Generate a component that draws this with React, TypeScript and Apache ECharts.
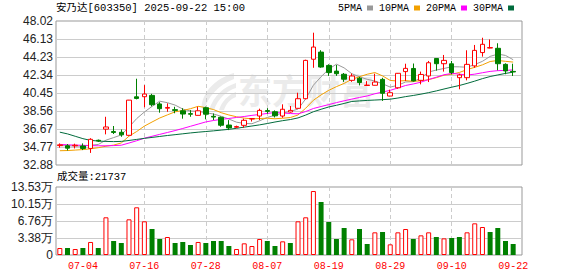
import React, { useEffect, useRef } from "react";
import * as echarts from "echarts";

const dates = [
  "07-01", "07-02", "07-03", "07-04", "07-07", "07-08", "07-09", "07-10", "07-11", "07-14",
  "07-15", "07-16", "07-17", "07-18", "07-21", "07-22", "07-23", "07-24", "07-25", "07-28",
  "07-29", "07-30", "07-31", "08-01", "08-04", "08-05", "08-06", "08-07", "08-08", "08-11",
  "08-12", "08-13", "08-14", "08-15", "08-18", "08-19", "08-20", "08-21", "08-22", "08-25",
  "08-26", "08-27", "08-28", "08-29", "09-01", "09-02", "09-03", "09-04", "09-05", "09-08",
  "09-09", "09-10", "09-11", "09-12", "09-15", "09-16", "09-17", "09-18", "09-19", "09-22",
];
const labelledDates = ["07-04", "07-16", "07-28", "08-07", "08-19", "08-29", "09-10", "09-22"];

const opens = [
  34.92, 34.9, 34.9, 34.88, 34.62, 35.48, 36.65, 36.4, 36.32, 36.0,
  40.05, 40.06, 40.2, 39.3, 38.85, 38.7, 38.58, 38.28, 38.1, 38.9,
  38.0, 37.9, 37.08, 36.85, 37.05, 37.72, 38.03, 38.6, 38.48, 38.03,
  38.45, 38.84, 39.85, 44.0, 44.75, 43.35, 42.75, 42.42, 41.78, 42.0,
  41.24, 41.26, 41.88, 40.13, 41.0, 42.7, 43.03, 41.78, 42.24, 44.08,
  43.53, 43.52, 42.06, 42.06, 43.3, 44.7, 45.18, 45.15, 43.46, 42.72,
];
const closes = [
  35.0, 34.65, 34.96, 34.62, 35.58, 35.4, 36.88, 36.3, 36.05, 39.7,
  39.88, 40.34, 39.22, 38.8, 38.93, 38.62, 38.24, 38.22, 38.58, 38.22,
  37.92, 37.06, 36.78, 36.92, 37.58, 37.76, 38.62, 38.52, 38.05, 38.74,
  38.62, 39.85, 43.88, 45.28, 43.18, 42.6, 42.48, 41.9, 42.24, 41.55,
  41.28, 41.6, 40.42, 40.48, 42.52, 43.04, 41.72, 42.4, 43.63, 43.53,
  43.88, 42.6, 42.34, 43.46, 44.93, 45.57, 45.22, 43.53, 42.77, 42.66,
];
const lows = [
  34.7, 34.4, 34.62, 34.45, 34.15, 35.3, 36.1, 36.14, 35.85, 35.95,
  39.78, 38.95, 39.05, 38.38, 38.48, 38.32, 37.75, 37.95, 38.08, 37.68,
  37.6, 36.9, 36.55, 36.75, 36.8, 37.45, 37.6, 38.28, 37.88, 37.85,
  38.38, 38.82, 39.8, 43.1, 43.1, 42.25, 42.25, 41.62, 41.62, 41.25,
  41.24, 41.24, 39.62, 40.1, 40.9, 41.72, 41.65, 41.36, 41.6, 42.8,
  42.7, 42.4, 40.84, 41.78, 43.1, 44.27, 45.15, 42.83, 42.42, 42.24,
];
const highs = [
  35.15, 35.08, 35.12, 35.15, 35.7, 35.55, 37.95, 36.98, 36.62, 39.72,
  41.95, 41.28, 40.36, 39.48, 39.36, 39.0, 38.85, 38.65, 39.0, 39.02,
  38.3, 37.98, 37.6, 37.02, 37.75, 37.78, 38.8, 38.85, 38.62, 39.26,
  39.08, 40.48, 43.95, 46.79, 44.95, 43.47, 43.4, 42.55, 42.5, 42.15,
  41.7, 42.48, 42.05, 40.8, 42.55, 43.53, 43.55, 42.7, 43.82, 44.1,
  44.45, 43.82, 42.48, 44.94, 45.5, 46.26, 46.08, 45.68, 43.57, 43.53,
];
const volumes = [
  13900, 13900, 11900, 13900, 25900, 13900, 75000, 27900, 23900, 71000,
  94900, 67000, 51700, 31800, 35800, 23900, 25900, 19900, 25900, 23900,
  27900, 27900, 17900, 11900, 23200, 17900, 31800, 27900, 17900, 27200,
  23900, 67000, 75000, 127300, 105500, 65700, 31800, 53700, 31200, 51700,
  21900, 45100, 45800, 21200, 45100, 51700, 31800, 39100, 45100, 35800,
  33100, 33800, 35800, 45100, 63000, 55700, 45800, 53700, 27900, 21737,
];
const ma5 = [
  34.92, 34.9, 34.88, 34.86, 34.96, 35.04, 35.49, 35.76, 36.04, 36.87,
  37.76, 38.45, 39.04, 39.59, 39.43, 39.18, 38.76, 38.56, 38.52, 38.38,
  38.24, 38.0, 37.71, 37.38, 37.25, 37.22, 37.53, 37.88, 38.11, 38.34,
  38.51, 38.76, 39.83, 41.27, 42.16, 42.96, 43.48, 43.09, 42.48, 42.15,
  41.89, 41.71, 41.42, 41.07, 41.26, 41.61, 41.64, 42.03, 42.66, 42.86,
  43.03, 43.21, 43.2, 43.16, 43.44, 43.78, 44.3, 44.54, 44.4, 43.95,
];
const ma10 = [
  34.38, 34.4, 34.45, 34.5, 34.58, 34.7, 34.85, 34.97, 35.2, 35.91,
  36.4, 36.97, 37.4, 37.82, 38.15, 38.47, 38.61, 38.8, 39.05, 38.91,
  38.71, 38.38, 38.14, 37.95, 37.81, 37.73, 37.77, 37.8, 37.74, 37.8,
  37.87, 38.14, 38.85, 39.69, 40.25, 40.73, 41.12, 41.46, 41.88, 42.16,
  42.42, 42.6, 42.25, 41.77, 41.71, 41.75, 41.68, 41.73, 41.86, 42.06,
  42.32, 42.42, 42.61, 42.91, 43.15, 43.41, 43.76, 43.87, 43.78, 43.7,
];
const ma20 = [
  35.05, 35.0, 34.97, 34.95, 34.92, 34.9, 34.9, 34.92, 34.96, 35.19,
  35.43, 35.7, 35.9, 36.1, 36.3, 36.5, 36.72, 36.95, 37.18, 37.41,
  37.56, 37.68, 37.77, 37.88, 37.98, 38.1, 38.19, 38.3, 38.4, 38.35,
  38.29, 38.26, 38.5, 38.82, 39.03, 39.23, 39.44, 39.63, 39.81, 39.98,
  40.14, 40.37, 40.55, 40.73, 40.98, 41.24, 41.4, 41.59, 41.87, 42.11,
  42.37, 42.51, 42.43, 42.34, 42.43, 42.58, 42.72, 42.8, 42.82, 42.88,
];
const ma30 = [
  36.33, 36.15, 35.9, 35.65, 35.47, 35.4, 35.36, 35.34, 35.36, 35.46,
  35.57, 35.68, 35.78, 35.88, 35.98, 36.07, 36.16, 36.25, 36.33, 36.4,
  36.47, 36.55, 36.63, 36.74, 36.86, 36.98, 37.1, 37.24, 37.4, 37.54,
  37.66, 37.83, 38.13, 38.48, 38.74, 38.98, 39.16, 39.35, 39.56, 39.62,
  39.67, 39.71, 39.75, 39.8, 39.92, 40.07, 40.19, 40.33, 40.49, 40.67,
  40.87, 41.06, 41.24, 41.46, 41.7, 41.96, 42.18, 42.35, 42.51, 42.64,
];

const priceTickLabels = ["32.88", "34.77", "36.67", "38.56", "40.45", "42.34", "44.23", "46.13", "48.02"];
const volumeTickLabels = ["0", "3.38万", "6.76万", "10.15万", "13.53万"];
const maNames = ["5PMA", "10PMA", "20PMA", "30PMA"];

const stockTitle = "安乃达[603350] 2025-09-22 15:00";
const volumeTitle = "成交量";
const watermark = "东方财富";

// axis configuration
const PRICE_MIN = 32.88;
const PRICE_MAX = 48.02;
const PRICE_STEP = (PRICE_MAX - PRICE_MIN) / 8;
const VOL_MAX = 135300;
const VOL_STEP = VOL_MAX / 4;

const UP = "#ff0000";
const DOWN = "#008000";
const MA_COLORS = ["#999999", "#f2a000", "#ff00ff", "#006b3c"];

echarts.graphic.registerShape(
  "emLogo",
  echarts.graphic.extendPath(
    "M34 0 C20 4 6 14 2 30 C1 34 2 37 4 37 C8 24 18 12 34 6 Z M36 10 C24 14 14 22 9 37 L14 37 C18 26 26 18 36 15 Z M36 19 C28 22 22 28 19 37 L24 37 C26 31 30 26 36 24 Z",
    {}
  )
);

export default function App() {
  const ref = useRef<HTMLDivElement>(null);

  useEffect(() => {
    document.body.style.margin = "0";
    const chart = echarts.init(ref.current!, undefined, { renderer: "svg" });

    const labelIdx = labelledDates.map((d) => dates.indexOf(d));
    const xMin = -0.5;
    const xMax = 60.15;

    const candleData = dates.map((_, i) => [
      i,
      opens[i] - PRICE_MIN,
      closes[i] - PRICE_MIN,
      lows[i] - PRICE_MIN,
      highs[i] - PRICE_MIN,
    ]);

    const maLists = [ma5, ma10, ma20, ma30];
    const maSeries = maLists.map((arr, k) => ({
      name: maNames[k],
      type: "line",
      xAxisIndex: 0,
      yAxisIndex: 0,
      data: arr.map((v, i) => [i, v - PRICE_MIN]),
      symbol: "none",
      showSymbol: false,
      color: MA_COLORS[k],
      itemStyle: { color: MA_COLORS[k] },
      lineStyle: { width: 1, color: MA_COLORS[k] },
      z: 3,
      silent: true,
    }));

    const volData = volumes.map((v, i) => {
      const up = i === 0 || closes[i] >= closes[i - 1];
      return {
        value: [i, v],
        itemStyle: up
          ? { color: "#ffffff", borderColor: UP, borderWidth: 1 }
          : { color: DOWN, borderColor: DOWN, borderWidth: 0 },
      };
    });

    const labelFont = { fontFamily: "Liberation Sans, Arial, sans-serif", fontSize: 12, color: "#222" };

    const xAxisCommon = {
      type: "value",
      min: xMin,
      max: xMax,
      axisLine: { show: false },
      axisTick: { show: false, customValues: labelIdx },
      splitLine: {
        show: true,
        showMinLine: false,
        showMaxLine: false,
        lineStyle: { color: "#cccccc", type: [4, 3], width: 1 },
      },
    };

    const option: any = {
      animation: false,
      backgroundColor: "#ffffff",
      title: [
        {
          text: stockTitle,
          left: 56,
          top: 3,
          padding: 0,
          textStyle: {
            fontFamily: "Liberation Mono, Noto Sans CJK SC, monospace",
            fontSize: 10.5,
            fontWeight: "normal",
            color: "#000",
          },
        },
        {
          text: `${volumeTitle}:${volumes[volumes.length - 1]}`,
          left: 57,
          top: 172,
          padding: 0,
          textStyle: {
            fontFamily: "Liberation Mono, Noto Sans CJK SC, monospace",
            fontSize: 10.5,
            fontWeight: "normal",
            color: "#000",
          },
        },
      ],
      legend: {
        data: maNames,
        left: 338,
        top: 3,
        padding: 0,
        icon: "rect",
        itemWidth: 6,
        itemHeight: 5,
        itemGap: 6,
        align: "right",
        selectedMode: false,
        textStyle: { fontFamily: "Liberation Mono, monospace", fontSize: 10, color: "#000" },
      },
      graphic: [
        {
          type: "emLogo",
          x: 200,
          y: 73,
          z: 0,
          silent: true,
          style: { fill: "#ebebeb" },
        },
        {
          type: "text",
          left: 238,
          top: 72,
          z: 0,
          silent: true,
          style: {
            text: watermark,
            fill: "#ebebeb",
            font: "bold 34px 'Noto Sans CJK SC'",
          },
        },
      ],
      grid: [
        { left: 56, top: 21, width: 466, height: 144, show: true, borderColor: "#999", borderWidth: 1, outerBoundsMode: "none" },
        { left: 56, top: 187, width: 466, height: 68, show: true, borderColor: "#999", borderWidth: 1, outerBoundsMode: "none" },
      ],
      xAxis: [
        { ...xAxisCommon, gridIndex: 0, axisLabel: { show: false, customValues: labelIdx } },
        {
          ...xAxisCommon,
          gridIndex: 1,
          axisLabel: {
            show: true,
            customValues: labelIdx,
            margin: 6,
            color: "#ff0000",
            fontFamily: "Liberation Mono, monospace",
            fontSize: 10,
            formatter: (v: number) => dates[Math.round(v)] ?? "",
          },
        },
      ],
      yAxis: [
        {
          type: "value",
          gridIndex: 0,
          min: 0,
          max: PRICE_MAX - PRICE_MIN,
          interval: PRICE_STEP,
          axisLine: { show: false },
          axisTick: { show: false },
          splitLine: { show: true, showMinLine: false, showMaxLine: false, lineStyle: { color: "#cccccc", width: 1 } },
          axisLabel: {
            ...labelFont,
            margin: 3,
            formatter: (v: number) => priceTickLabels[Math.round(v / PRICE_STEP)] ?? "",
          },
        },
        {
          type: "value",
          gridIndex: 1,
          min: 0,
          max: VOL_MAX,
          interval: VOL_STEP,
          axisLine: { show: false },
          axisTick: { show: false },
          splitLine: { show: true, showMinLine: false, showMaxLine: false, lineStyle: { color: "#cccccc", width: 1 } },
          axisLabel: {
            ...labelFont,
            margin: 3,
            formatter: (v: number) => volumeTickLabels[Math.round(v / VOL_STEP)] ?? "",
          },
        },
      ],
      series: [
        {
          name: "K",
          type: "candlestick",
          xAxisIndex: 0,
          yAxisIndex: 0,
          barWidth: 5,
          encode: { x: 0, y: [1, 2, 3, 4] },
          data: candleData,
          itemStyle: {
            color: "#ffffff",
            color0: DOWN,
            borderColor: UP,
            borderColor0: DOWN,
            borderWidth: 1,
          },
          z: 4,
          silent: true,
        },
        ...maSeries,
        {
          name: "VOL",
          type: "bar",
          xAxisIndex: 1,
          yAxisIndex: 1,
          barWidth: 5,
          data: volData,
          silent: true,
        },
      ],
    };

    chart.setOption(option);
    return () => chart.dispose();
  }, []);

  return <div ref={ref} style={{ width: 578, height: 276 }} />;
}
